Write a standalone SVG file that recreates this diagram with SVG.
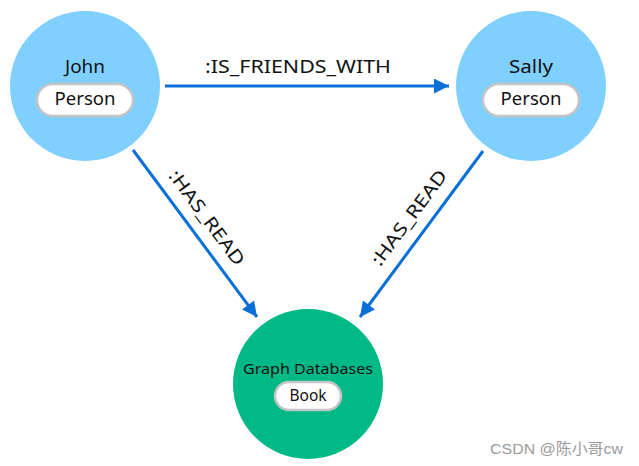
<svg xmlns="http://www.w3.org/2000/svg" width="639" height="466" viewBox="0 0 639 466">
<style>
.lbl{font-family:"Noto Sans","Liberation Sans",sans-serif;fill:#111;text-anchor:middle}
.pill{fill:#fff;stroke:#c4c4c4;stroke-width:2.5}
.edge{stroke:#0a6fd6;stroke-width:3;fill:none}
.person{fill:#80d0ff}
.book{fill:#00b986}
</style>
<defs>
<marker id="arr" viewBox="0 0 10 10" refX="10" refY="5" markerWidth="6.5" markerHeight="5" markerUnits="strokeWidth" orient="auto">
<path d="M0,0 L10,5 L0,10 z" fill="#0a6fd6"/>
</marker>
</defs>
<rect width="639" height="466" fill="#fff"/>
<g id="connectors">
<g id="e1">
<line class="edge" x1="165" y1="86" x2="449" y2="86" marker-end="url(#arr)"/>
<text class="lbl" x="298" y="73" font-size="18.5" textLength="186" lengthAdjust="spacingAndGlyphs">:IS_FRIENDS_WITH</text>
</g>
<g id="e2">
<line class="edge" x1="133" y1="150" x2="257" y2="317" marker-end="url(#arr)"/>
<text class="lbl" font-size="18" textLength="114" lengthAdjust="spacingAndGlyphs" transform="translate(195,234) rotate(53.4) translate(-6,-13)">:HAS_READ</text>
</g>
<g id="e3">
<line class="edge" x1="483" y1="151" x2="360" y2="317" marker-end="url(#arr)"/>
<text class="lbl" font-size="18" textLength="114" lengthAdjust="spacingAndGlyphs" transform="translate(421,234) rotate(-53.4) translate(6,-13)">:HAS_READ</text>
</g>
</g>
<g id="john">
<circle class="person" cx="85" cy="86" r="75"/>
<text class="lbl" x="85" y="73" font-size="18" textLength="40" lengthAdjust="spacingAndGlyphs">John</text>
<rect class="pill" x="37" y="84" width="96" height="32" rx="16"/>
<text class="lbl" x="85" y="105" font-size="18" textLength="61" lengthAdjust="spacingAndGlyphs">Person</text>
</g>
<g id="sally">
<circle class="person" cx="531" cy="86" r="75"/>
<text class="lbl" x="531" y="73" font-size="18" textLength="44" lengthAdjust="spacingAndGlyphs">Sally</text>
<rect class="pill" x="483" y="84" width="96" height="32" rx="16"/>
<text class="lbl" x="531" y="105" font-size="18" textLength="61" lengthAdjust="spacingAndGlyphs">Person</text>
</g>
<g id="book">
<circle class="book" cx="308" cy="384" r="75"/>
<text class="lbl" x="308" y="374" font-size="15" textLength="130" lengthAdjust="spacingAndGlyphs">Graph Databases</text>
<rect class="pill" x="275" y="382" width="66" height="28" rx="14"/>
<text class="lbl" x="308" y="401" font-size="16" textLength="37" lengthAdjust="spacingAndGlyphs">Book</text>
</g>
<text x="490" y="454" font-size="15" fill="#9a9a9a" textLength="133" lengthAdjust="spacingAndGlyphs" font-family="'Liberation Sans','Noto Sans CJK SC',sans-serif">CSDN @陈小哥cw</text>
</svg>
